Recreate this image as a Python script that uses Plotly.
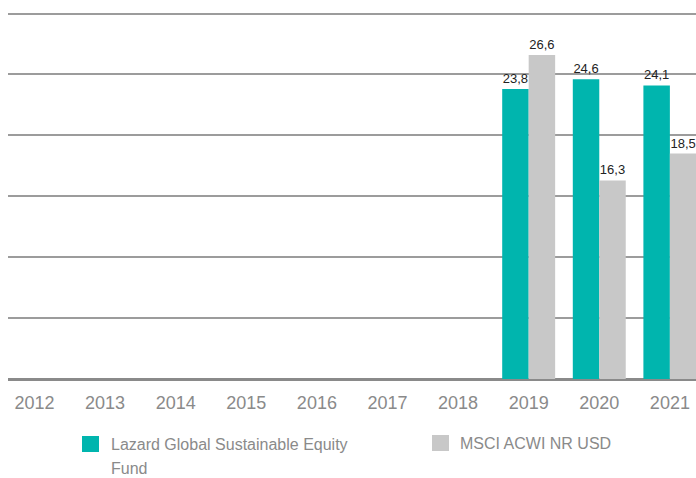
import plotly.graph_objects as go

years = ["2012", "2013", "2014", "2015", "2016", "2017", "2018", "2019", "2020", "2021"]
fund_name = "Lazard Global Sustainable Equity Fund"
index_name = "MSCI ACWI NR USD"
fund_values = [None, None, None, None, None, None, None, 23.8, 24.6, 24.1]
index_values = [None, None, None, None, None, None, None, 26.6, 16.3, 18.5]

teal = "#00B5AE"
gray = "#C8C8C8"
tick_color = "#8a8a8a"
font_family = "Liberation Sans, Arial, sans-serif"

W, H = 696, 478
ML, MR, MT, MB = 8, 0, 10, 99
PW, PH = W - ML - MR, H - MT - MB
Y_TOP = PH / (365.5 / 30)  # keep 30 gridline inside the plot

fig = go.Figure()
for name, vals, col in [(fund_name, fund_values, teal), (index_name, index_values, gray)]:
    fig.add_trace(go.Bar(
        x=years, y=vals, name=name, marker_color=col, marker_line_width=0,
        texttemplate="%{y:.1f}", textposition="outside", cliponaxis=False,
        textfont=dict(size=13, color="#222222", family=font_family),
        showlegend=False,
    ))

fig.update_layout(
    width=W, height=H,
    margin=dict(l=ML, r=MR, t=MT, b=MB, pad=0),
    paper_bgcolor="white", plot_bgcolor="white",
    barmode="group", bargap=0.25, bargroupgap=0,
    separators=",.",
    font=dict(family=font_family),
)
fig.update_xaxes(
    type="category", range=[-0.375, -0.375 + PW / 70.6],
    showgrid=False, showline=False, zeroline=False,
    ticks="", ticklabelstandoff=11,
    tickfont=dict(size=18, color=tick_color, family=font_family),
)
fig.update_yaxes(
    range=[0, Y_TOP], dtick=5, tick0=0,
    showgrid=True, gridcolor="#9c9c9c", gridwidth=2,
    zeroline=True, zerolinecolor="#8a8a8a", zerolinewidth=3,
    showticklabels=False, showline=False,
)


def px(xr):
    return (xr - ML) / PW


def py(yr):
    return (MT + PH - yr) / PH


# Legend drawn manually
legend_font = dict(size=16, color=tick_color, family=font_family)
fund_lines = ["Lazard Global Sustainable Equity", "Fund"]
fig.add_shape(type="rect", xref="paper", yref="paper",
              x0=px(82), x1=px(99), y0=py(452), y1=py(436),
              fillcolor=teal, line_width=0)
fig.add_annotation(xref="paper", yref="paper", x=px(110), y=py(444),
                   text=fund_lines[0], showarrow=False, xanchor="left", yanchor="middle",
                   font=legend_font, borderpad=0)
fig.add_annotation(xref="paper", yref="paper", x=px(110), y=py(468.5),
                   text=fund_lines[1], showarrow=False, xanchor="left", yanchor="middle",
                   font=legend_font, borderpad=0)
fig.add_shape(type="rect", xref="paper", yref="paper",
              x0=px(432), x1=px(449), y0=py(451), y1=py(435),
              fillcolor=gray, line_width=0)
fig.add_annotation(xref="paper", yref="paper", x=px(459), y=py(443.5),
                   text=index_name, showarrow=False, xanchor="left", yanchor="middle",
                   font=legend_font, borderpad=0)

fig.write_html(
    "out.html",
    config={"displayModeBar": False},
    post_script="document.documentElement.style.overflow='hidden';"
                "document.body.style.margin='0';document.body.style.overflow='hidden';",
)
